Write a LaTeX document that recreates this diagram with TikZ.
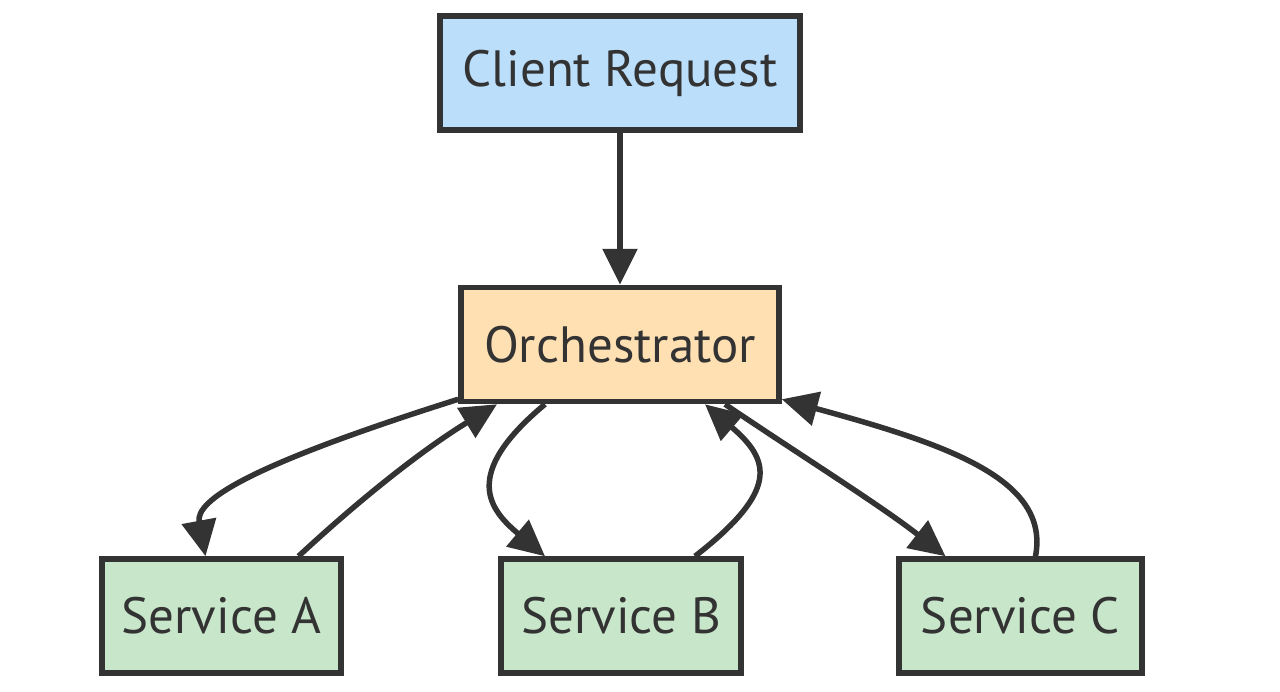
\documentclass[tikz,border=0pt]{standalone}
\usepackage{fontspec}
\setmainfont{PT Sans}
\usetikzlibrary{arrows.meta,calc}
\definecolor{ink}{HTML}{333333}
\definecolor{cblue}{HTML}{BBDEFB}
\definecolor{corange}{HTML}{FFE0B2}
\definecolor{cgreen}{HTML}{C8E6C9}
\begin{document}
\begin{tikzpicture}[x=1pt,y=-1pt,
  box/.style={draw=ink,line width=5.5pt,text=ink,font=\fontsize{51}{58}\selectfont,inner sep=0pt,minimum height=114pt},
  link/.style={draw=ink,line width=5.5pt,-{Triangle[length=36pt,width=34pt]}}]
\useasboundingbox (0,0) rectangle (1280,691);
\node[box,fill=cblue,minimum width=360pt] (client) at (620,73) {\raisebox{-2pt}{Client Request}};
\node[box,fill=corange,minimum width=318pt] (orch) at (620,344.5) {\raisebox{-2pt}{Orchestrator}};
\node[box,fill=cgreen,minimum width=239pt] (sa) at (221.5,616) {\raisebox{-2pt}{Service A}};
\node[box,fill=cgreen,minimum width=240pt] (sb) at (621,616) {\raisebox{-2pt}{Service B}};
\node[box,fill=cgreen,minimum width=243pt] (sc) at (1020.5,616) {\raisebox{-2pt}{Service C}};
\draw[link] (client.south) -- (orch.north);
\draw[link] ($(orch.south west)+(0,-5)$) .. controls (250,465) and (195,500) .. ($(sa.north)+(-16,0)$);
\draw[link] ($(sa.north)+(77,0)$) .. controls (370,490) and (430,445) .. ($(orch.south)+(-123,0)$);
\draw[link] ($(orch.south)+(-75,0)$) .. controls (460,475) and (490,510) .. ($(sb.north)+(-76,0)$);
\draw[link] ($(sb.north)+(74,0)$) .. controls (780,490) and (770,460) .. ($(orch.south)+(85,0)$);
\draw[link] ($(orch.south)+(105,0)$) .. controls (800,455) and (880,505) .. ($(sc.north)+(-75,0)$);
\draw[link] ($(sc.north)+(15,0)$) .. controls (1050,480) and (950,445) .. ($(orch.south east)+(0,-5)$);
\end{tikzpicture}
\end{document}
